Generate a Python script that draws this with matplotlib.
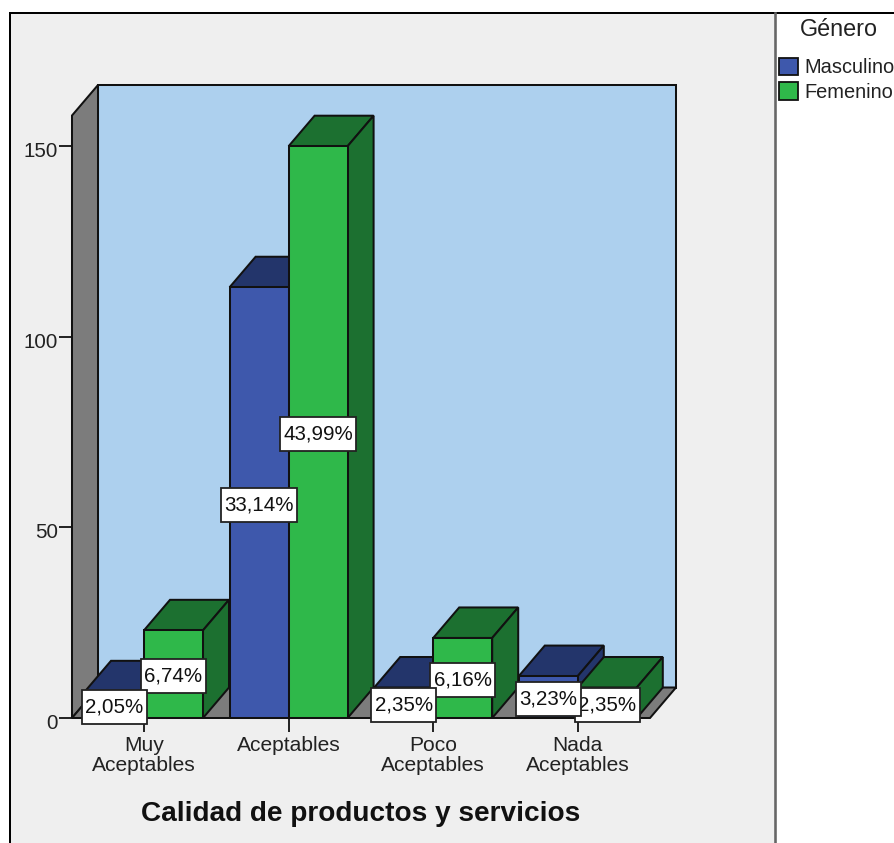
import matplotlib
matplotlib.use("Agg")
import matplotlib.pyplot as plt
from matplotlib.patches import Polygon, Rectangle
from matplotlib.path import Path
from matplotlib.transforms import ScaledTranslation

categories = ["Muy\nAceptables", "Aceptables", "Poco\nAceptables", "Nada\nAceptables"]
masculino = [7, 113, 8, 11]
femenino = [23, 150, 21, 8]
masculino_pct = ["2,05%", "33,14%", "2,35%", "3,23%"]
femenino_pct = ["6,74%", "43,99%", "6,16%", "2,35%"]
y_ticks = [0, 50, 100, 150]

WALL = "#ADD0EE"
GREY = "#7C7C7C"
PANEL = "#EFEFEF"
EDGE = "#111111"
BLUE, BLUE_DARK = "#3E58AC", "#23356B"
GREEN, GREEN_DARK = "#2FB84A", "#1C7030"
TEXT = "#222222"

W, H = 895, 843
plt.rcParams["font.family"] = ["Liberation Sans", "DejaVu Sans"]
fig = plt.figure(figsize=(W / 100, H / 100), dpi=100, facecolor="white")


def fx(px):
    return px / W


def fy(py):
    return 1 - py / H


# Outer chart panel with its frame
fig.add_artist(Rectangle((fx(10.5), 0), fx(765), fy(12.5), transform=fig.transFigure,
                         facecolor=PANEL, edgecolor="none", zorder=-2))
for xs, ys, col, lw in [([10.5, 10.5], [12.5, 843], "#000000", 2.0),
                        ([10.5, 895], [12.5, 12.5], "#000000", 2.0),
                        ([775.5, 775.5], [12.5, 843], "#666666", 2.6)]:
    fig.add_artist(plt.Line2D([fx(v) for v in xs], [fy(v) for v in ys], color=col,
                              lw=lw * 0.72, transform=fig.transFigure, zorder=-1))

# Plot area: bottom edge is value 0 on the front plane, top edge is the back wall's top
left, right, top, bottom = 72, 676, 85, 718
ax = fig.add_axes([fx(left), fy(bottom), (right - left) / W, (bottom - top) / H])
ax.patch.set_alpha(0)
for s in ax.spines.values():
    s.set_visible(False)

px_per_cat = 144.6
px_per_val = 3.812
ax.set_xlim((left - 144) / px_per_cat, (right - 144) / px_per_cat)
ax.set_ylim(0, (bottom - top) / px_per_val)

depth_x = 26 / px_per_cat
depth_y = 30.5 / px_per_val
bar_w = 59 / px_per_cat
x0 = ax.get_xlim()[0]
x1 = x0 + (right - left - 26) / px_per_cat
wall_top = ax.get_ylim()[1]


def poly(points, color, z):
    ax.add_patch(Polygon(points, closed=True, facecolor=color, edgecolor=EDGE,
                         lw=1.45, joinstyle="miter", clip_on=False, zorder=z))


front_top = wall_top - depth_y
poly([(x0 + depth_x, depth_y), (x0 + depth_x + (x1 - x0), depth_y),
      (x0 + depth_x + (x1 - x0), wall_top), (x0 + depth_x, wall_top)], WALL, 1)
poly([(x0, 0), (x0 + depth_x, depth_y), (x0 + depth_x, wall_top), (x0, front_top)], GREY, 1.1)
poly([(x0, 0), (x1, 0), (x1 + depth_x, depth_y), (x0 + depth_x, depth_y)], GREY, 1.1)


def bar3d(xa, value, face, dark, z):
    xb = xa + bar_w
    poly([(xa, value), (xb, value), (xb + depth_x, value + depth_y), (xa + depth_x, value + depth_y)], dark, z)
    poly([(xb, 0), (xb + depth_x, depth_y), (xb + depth_x, value + depth_y), (xb, value)], dark, z)
    poly([(xa, 0), (xb, 0), (xb, value), (xa, value)], face, z)


for i in range(len(categories)):
    bar3d(i - bar_w, masculino[i], BLUE, BLUE_DARK, 2 + i * 0.1)
    bar3d(i, femenino[i], GREEN, GREEN_DARK, 2.05 + i * 0.1)


def tall_box(x, y, width, height, mutation_size):
    # Value label frame: taller padding above and below the text than at its sides
    px_, py_ = 0.17 * mutation_size, 0.37 * mutation_size
    xa, xb = x - px_, x + width + px_
    ya, yb = y - py_, y + height + py_
    return Path([(xa, ya), (xb, ya), (xb, yb), (xa, yb), (xa, ya)], closed=True)


box = dict(boxstyle=tall_box, facecolor="white", edgecolor="#222222", lw=1.3)
for i in range(len(categories)):
    ax.text(i + bar_w / 2, femenino[i] / 2, femenino_pct[i], ha="center", va="center_baseline",
            fontsize=14.8, color="#111111", bbox=box, zorder=5, clip_on=False)
    ax.text(i - bar_w / 2, masculino[i] / 2, masculino_pct[i], ha="center", va="center_baseline",
            fontsize=14.8, color="#111111", bbox=box, zorder=6, clip_on=False)

ax.set_xticks(range(len(categories)), categories)
ax.set_yticks(y_ticks)
ax.tick_params(axis="x", length=10, width=1.3, color=EDGE, labelcolor=TEXT, labelsize=15.1, pad=3)
ax.tick_params(axis="y", length=9.5, width=1.3, color=EDGE, labelcolor=TEXT, labelsize=14.8, pad=0.5)
for lab in ax.get_xticklabels():
    lab.set_linespacing(1.08)
nudge = ScaledTranslation(0, -3.5 / 100, fig.dpi_scale_trans)
for lab in ax.get_yticklabels():
    lab.set_transform(lab.get_transform() + nudge)

ax.set_xlabel("Calidad de productos y servicios", fontsize=20.2, fontweight="bold", color="#111111")
ax.xaxis.set_label_coords((361 - left) / (right - left), -(814 - bottom) / (bottom - top))
ax.xaxis.label.set_va("center")

handles = [Rectangle((0, 0), 1, 1, facecolor=BLUE, edgecolor=EDGE, lw=1.3),
           Rectangle((0, 0), 1, 1, facecolor=GREEN, edgecolor=EDGE, lw=1.3)]
fig.legend(handles, ["Masculino", "Femenino"], frameon=False,
           loc="upper left", bbox_to_anchor=(fx(779), fy(57.5)), borderaxespad=0, borderpad=0,
           fontsize=14.4, handlelength=0.95, handleheight=0.95,
           handletextpad=0.3, labelspacing=0.27, labelcolor=TEXT)
fig.text(fx(838.5), fy(30), "Género", ha="center", va="center", fontsize=16.8, color=TEXT)

fig.savefig("out.png", dpi=100)
